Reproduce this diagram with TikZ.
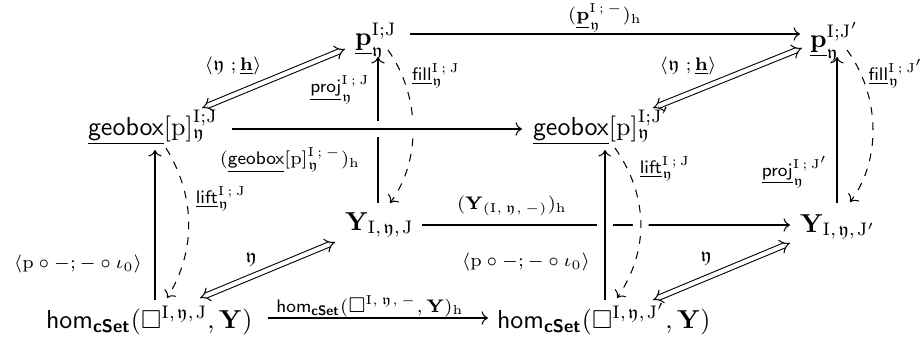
\documentclass[tikz,border=0pt]{standalone}
\usepackage{amsmath,amssymb}
\usetikzlibrary{arrows.meta}
\newcommand{\myy}{\mathfrak{y}}
\newcommand{\mycset}{\text{\sffamily\bfseries cSet}}
\newcommand{\mysp}{\mkern1.5mu}
\begin{document}
\begin{tikzpicture}[x=0.385pt,y=-0.385pt,
  every node/.style={inner sep=0pt, outer sep=0pt},
  obj/.style={anchor=base west},
  lbl/.style={font=\fontsize{7.5}{9}\selectfont},
  arr/.style={-{Computer Modern Rightarrow}, line width=0.4pt},
  darr/.style={{Implies}-{Implies}, double, double distance=1.6pt, line width=0.4pt},
  dasharr/.style={dashed, -{Computer Modern Rightarrow}, line width=0.4pt},
  overcross/.style={preaction={draw=white, -, solid, line width=6pt}}
]
\useasboundingbox (0,0) rectangle (923,339);
% objects
\node[obj] (pL) at (355,45) {$\underline{\mathbf p}^{\mathrm{I;J}}_{\myy}$};
\node[obj] (pR) at (810,47) {$\underline{\mathbf p}^{\mathrm{I;J}'}_{\myy}$};
\node[obj] (gL) at (88,135) {$\underline{\mathsf{geobox}}[\mathrm p]^{\mathrm{I;J}}_{\myy}$};
\node[obj] (gR) at (533,135) {$\underline{\mathsf{geobox}}[\mathrm p]^{\mathrm{I;J}'}_{\myy}$};
\node[obj] (YL) at (345,230) {$\mathbf Y_{\mathrm I,\mysp\myy,\mysp\mathrm J}$};
\node[obj] (YR) at (800,232) {$\mathbf Y_{\mathrm I,\mysp\myy,\mysp\mathrm J'}$};
\node[obj] (hL) at (46,328) {$\mathsf{hom}_{\mycset}(\square^{\mathrm I,\mysp\myy,\mysp\mathrm J},\mathbf Y)$};
\node[obj] (hR) at (497,328) {$\mathsf{hom}_{\mycset}(\square^{\mathrm I,\mysp\myy,\mysp\mathrm J'},\mathbf Y)$};
% connector ends
\coordinate (tA) at (410,34);  \coordinate (tB) at (800,34);
\coordinate (gA) at (232,129); \coordinate (gB) at (522,129);
\coordinate (yA) at (422,225); \coordinate (yB) at (790,225);
\coordinate (hA) at (268,318); \coordinate (hB) at (488,318);
\coordinate (lvA) at (155,300); \coordinate (lvB) at (155,150);
\coordinate (plA) at (378,203); \coordinate (plB) at (378,57);
\coordinate (rvA) at (605,300); \coordinate (rvB) at (605,150);
\coordinate (prA) at (837,203); \coordinate (prB) at (837,57);
\coordinate (flA) at (388,50);  \coordinate (flB) at (390,203);
\coordinate (frA) at (847,50);  \coordinate (frB) at (850,202);
\coordinate (llA) at (166,148); \coordinate (llB) at (167,298);
\coordinate (lrA) at (615,148); \coordinate (lrB) at (617,298);
\coordinate (d1A) at (202,108); \coordinate (d1B) at (345,49);
\coordinate (d2A) at (653,108); \coordinate (d2B) at (802,48);
\coordinate (d3A) at (200,298); \coordinate (d3B) at (335,242);
\coordinate (d4A) at (653,300); \coordinate (d4B) at (790,243);
% back face arrows
\draw[arr] (plA) -- (plB);
\draw[dasharr] (flA) .. controls (420,95) and (422,160) .. (flB);
\draw[arr] (yA) -- (yB);
% front
\draw[arr] (tA) -- (tB);
\draw[arr,overcross] (gA) -- (gB);
\draw[arr] (hA) -- (hB);
\draw[arr] (lvA) -- (lvB);
\draw[arr,overcross] (rvA) -- (rvB);
\draw[arr] (prA) -- (prB);
\draw[dasharr] (frA) .. controls (880,95) and (882,160) .. (frB);
\draw[dasharr] (llA) .. controls (195,195) and (197,250) .. (llB);
\draw[dasharr,overcross] (lrA) .. controls (648,195) and (650,250) .. (lrB);
\draw[darr] (d1A) -- (d1B);
\draw[darr] (d2A) -- (d2B);
\draw[darr] (d3A) -- (d3B);
\draw[darr] (d4A) -- (d4B);
% labels
\node[lbl] (ltop) at (605,18) {$(\underline{\mathbf p}^{\mathrm{I\,;\,-}}_{\myy})_{\mathrm h}$};
\node[lbl] (lgeo) at (290,160) {$(\underline{\mathsf{geobox}}[\mathrm p]^{\mathrm{I\,;\,-}}_{\myy})_{\mathrm h}$};
\node[lbl] (lY) at (512,206) {$(\mathbf Y_{(\mathrm I,\,\myy,\,-)})_{\mathrm h}$};
\node[lbl] (lhom) at (370,306) {$\mathsf{hom}_{\mycset}(\square^{\mathrm I,\,\myy,\,-},\mathbf Y)_{\mathrm h}$};
\node[lbl] (lyh1) at (233,66) {$\langle\myy\;;\underline{\mathbf h}\rangle$};
\node[lbl] (lyh2) at (688,66) {$\langle\myy\;;\underline{\mathbf h}\rangle$};
\node[lbl] (lpj1) at (340,90) {$\underline{\mathsf{proj}}^{\mathrm{I\,;\,J}}_{\myy}$};
\node[lbl] (lpj2) at (795,172) {$\underline{\mathsf{proj}}^{\mathrm{I\,;\,J}'}_{\myy}$};
\node[lbl] (lfl1) at (436,76) {$\underline{\mathsf{fill}}^{\mathrm{I\,;\,J}}_{\myy}$};
\node[lbl] (lfl2) at (896,74) {$\underline{\mathsf{fill}}^{\mathrm{I\,;\,J}'}_{\myy}$};
\node[lbl] (llf1) at (221,199) {$\underline{\mathsf{lift}}^{\mathrm{I\,;\,J}}_{\myy}$};
\node[lbl] (llf2) at (665,169) {$\underline{\mathsf{lift}}^{\mathrm{I\,;\,J}}_{\myy}$};
\node[lbl] (lpc1) at (78,264) {$\langle\mathrm p\circ-;-\circ\iota_0\rangle$};
\node[lbl] (lpc2) at (526,262) {$\langle\mathrm p\circ-;-\circ\iota_0\rangle$};
\node[lbl] (ly1) at (251,260) {$\myy$};
\node[lbl] (ly2) at (706,259) {$\myy$};
\end{tikzpicture}
\end{document}
